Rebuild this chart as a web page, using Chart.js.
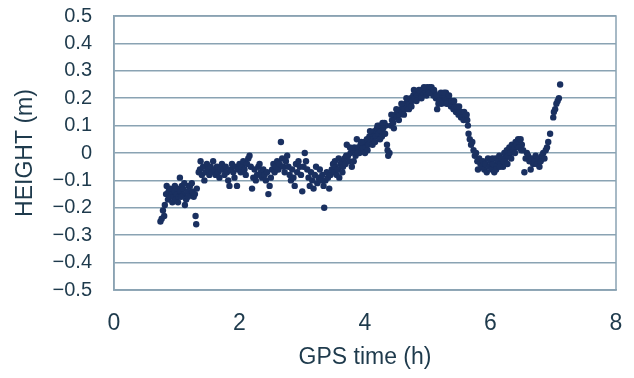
<!DOCTYPE html>
<html>
<head>
<meta charset="utf-8">
<script src="https://cdn.jsdelivr.net/npm/chart.js@4"></script>
<style>
  html, body { margin: 0; padding: 0; background: #fff; }
  #wrap { width: 634px; height: 378px; }
</style>
</head>
<body>
<div id="wrap"><canvas id="gps-chart" width="634" height="378"></canvas></div>
<script>
// GPS time (h) and height (m)
const times = [
  0.74, 0.76, 0.78, 0.80, 0.81, 0.83, 0.84, 0.86, 0.87, 0.89, 0.90, 0.92, 0.93, 0.95, 0.96, 0.98,
  1.00, 1.01, 1.03, 1.05, 1.06, 1.08, 1.10, 1.11, 1.13, 1.15, 1.17, 1.19, 1.21, 1.23, 1.25, 1.27,
  1.29, 1.30, 1.31, 1.32,
  1.35, 1.37, 1.38, 1.40, 1.42, 1.44, 1.46, 1.48, 1.50, 1.52, 1.54, 1.56, 1.58, 1.60, 1.62, 1.64,
  1.66, 1.68, 1.70, 1.72, 1.74, 1.76, 1.78, 1.80, 1.82, 1.84, 1.86, 1.88, 1.90, 1.92, 1.94, 1.96,
  1.98, 2.00,
  2.02, 2.04, 2.06, 2.08, 2.10, 2.12, 2.14, 2.16, 2.18, 2.20, 2.22, 2.24, 2.26, 2.28, 2.30, 2.32,
  2.34, 2.36, 2.38, 2.40, 2.42, 2.44, 2.46, 2.48, 2.50, 2.52, 2.54, 2.56, 2.58, 2.60, 2.62, 2.64,
  2.66, 2.68, 2.70, 2.72, 2.74, 2.76, 2.78, 2.80, 2.82, 2.84, 2.86, 2.88, 2.90, 2.92, 2.94, 2.96,
  2.98, 3.00,
  3.02, 3.04, 3.06, 3.08, 3.10, 3.12, 3.14, 3.16, 3.18, 3.20, 3.22, 3.24, 3.26, 3.28, 3.30, 3.32,
  3.34, 3.35, 3.37, 3.39, 3.41, 3.43, 3.45, 3.47, 3.49,
  3.51, 3.53, 3.55, 3.57, 3.59, 3.61, 3.63, 3.65, 3.67, 3.69, 3.71, 3.73, 3.75, 3.77, 3.79, 3.81,
  3.83, 3.85, 3.87, 3.89, 3.91, 3.93, 3.95, 3.97, 3.99,
  4.01, 4.03, 4.05, 4.07, 4.09, 4.11, 4.13, 4.15, 4.17, 4.19, 4.21, 4.23, 4.25, 4.27, 4.29, 4.31,
  4.33, 4.35, 4.36, 4.37, 4.39, 4.41, 4.43, 4.45, 4.47, 4.49,
  4.51, 4.53, 4.55, 4.57, 4.59, 4.61, 4.63, 4.65, 4.67, 4.69, 4.71, 4.73, 4.75, 4.77, 4.79, 4.81,
  4.83, 4.85, 4.87, 4.89, 4.91, 4.93, 4.95, 4.97, 4.99, 5.01, 5.03, 5.05, 5.07, 5.09,
  5.11, 5.13, 5.15, 5.17, 5.19, 5.21, 5.23, 5.25, 5.27, 5.29, 5.31, 5.33, 5.35, 5.37, 5.39, 5.41,
  5.43, 5.45, 5.47, 5.49, 5.51, 5.53, 5.55, 5.57, 5.59, 5.61, 5.63,
  5.65, 5.67, 5.69, 5.71, 5.73, 5.75, 5.77, 5.79, 5.80, 5.82, 5.84, 5.86, 5.88, 5.90, 5.92, 5.94,
  5.96, 5.98, 6.00, 6.02, 6.04, 6.06, 6.08, 6.10, 6.12, 6.14, 6.16, 6.18, 6.20, 6.22, 6.24, 6.26,
  6.28, 6.30, 6.32, 6.34, 6.36, 6.38, 6.40, 6.42, 6.44, 6.46, 6.48, 6.50, 6.52, 6.54, 6.56, 6.58,
  6.60, 6.62, 6.64, 6.66, 6.68, 6.70, 6.72, 6.74, 6.76, 6.78, 6.80, 6.82, 6.84, 6.86, 6.88, 6.90,
  6.92, 6.95, 7.00, 7.01, 7.03, 7.05, 7.07, 7.09, 7.11,
  // second pass over the thicker parts of the band
  0.97, 1.02, 1.07, 1.12, 1.18, 1.24,
  3.52, 3.58, 3.64, 3.70, 3.76, 3.82, 3.88, 3.94, 4.00, 4.04, 4.08, 4.12, 4.16, 4.20, 4.24, 4.28,
  4.32, 4.42, 4.46, 4.50, 4.54, 4.58, 4.62, 4.66, 4.70, 4.74, 4.78, 4.82, 4.86, 4.90, 4.94, 4.98,
  5.02, 5.06, 5.10, 5.14, 5.18, 5.22, 5.26, 5.30, 5.34, 5.38, 5.42, 5.46, 5.50, 5.54, 5.58, 5.62,
  5.64,
  6.03, 6.09, 6.15, 6.21, 6.27, 6.33, 6.39, 6.45, 6.49
]
const heights = [
  -0.25, -0.24, -0.21, -0.23, -0.19, -0.15, -0.12, -0.17, -0.14, -0.16, -0.13, -0.15, -0.18, -0.16, -0.14, -0.17,
  -0.15, -0.13, -0.16, -0.09, -0.14, -0.12, -0.13, -0.15, -0.19, -0.17, -0.14, -0.12, -0.12, -0.15, -0.14, -0.16,
  -0.15, -0.23, -0.26, -0.13,
  -0.07, -0.06, -0.03, -0.08, -0.05, -0.10, -0.07, -0.04, -0.06, -0.08, -0.05, -0.07, -0.03, -0.06, -0.08, -0.05,
  -0.07, -0.09, -0.06, -0.04, -0.06, -0.08, -0.05, -0.07, -0.10, -0.12, -0.06, -0.04, -0.07, -0.09, -0.05, -0.12,
  -0.06, -0.04,
  -0.07, -0.05, -0.03, -0.06, -0.08, -0.04, -0.02, -0.01, -0.05, -0.13, -0.09, -0.06, -0.10, -0.08, -0.05, -0.04,
  -0.07, -0.09, -0.06, -0.08, -0.10, -0.07, -0.15, -0.12, -0.09, -0.06, -0.04, -0.07, -0.05, -0.03, -0.06, -0.04,
  0.04, -0.02, -0.05, -0.07, -0.03, -0.01, -0.05, -0.08, -0.10, -0.06, -0.09, -0.12, -0.04, -0.07, -0.03, -0.05,
  -0.08, -0.14,
  -0.05, 0.00, -0.03, -0.06, -0.09, -0.12, -0.07, -0.10, -0.13, -0.08, -0.05, -0.11, -0.09, -0.06, -0.10, -0.08,
  -0.12, -0.20, -0.10, -0.07, -0.09, -0.13, -0.08, -0.06, -0.04,
  -0.07, -0.05, -0.08, -0.06, -0.09, -0.04, -0.03, -0.05, -0.02, -0.04, 0.03, -0.01, -0.03, 0.00, -0.05, 0.01,
  0.02, -0.01, 0.05, 0.02, 0.00, 0.03, 0.01, 0.02, 0.04,
  0.02, 0.05, 0.03, 0.06, 0.04, 0.07, 0.05, 0.08, 0.06, 0.09, 0.07, 0.10, 0.08, 0.06, 0.09, 0.11,
  0.10, 0.03, 0.01, -0.01, 0.00, 0.10, 0.12, 0.11, 0.13, 0.14,
  0.13, 0.15, 0.14, 0.16, 0.15, 0.17, 0.16, 0.18, 0.17, 0.19, 0.18, 0.20, 0.19, 0.21, 0.20, 0.22,
  0.21, 0.20, 0.22, 0.23, 0.21, 0.22, 0.23, 0.22, 0.24, 0.23, 0.24, 0.22, 0.23, 0.21,
  0.22, 0.20, 0.16, 0.18, 0.21, 0.22, 0.20, 0.19, 0.21, 0.22, 0.20, 0.18, 0.19, 0.17, 0.18, 0.16,
  0.17, 0.15, 0.16, 0.14, 0.15, 0.13, 0.14, 0.12, 0.14, 0.13, 0.12,
  0.07, 0.05, 0.03, 0.04, 0.01, -0.01, 0.00, -0.03, -0.06, -0.02, -0.04, -0.05, -0.03, -0.06, -0.04, -0.07,
  -0.02, -0.05, -0.03, -0.06, -0.04, -0.07, -0.02, -0.05, -0.03, -0.01, -0.04, -0.02, -0.05, 0.00, -0.02, 0.01,
  -0.01, 0.02, 0.00, 0.03, 0.01, 0.02, 0.04, 0.03, 0.05, 0.04, 0.05, 0.03, 0.01, -0.07, -0.02, 0.00,
  -0.01, -0.03, -0.06, -0.02, -0.04, -0.03, -0.01, -0.04, -0.02, -0.05, -0.03, -0.01, 0.00, -0.02, 0.01, 0.02,
  0.04, 0.07, 0.13, 0.15, 0.16, 0.18, 0.19, 0.20, 0.25,
  -0.12, -0.18, -0.16, -0.11, -0.16, -0.11,
  -0.03, -0.02, -0.07, -0.01, 0.02, -0.03, 0.00, 0.04, 0.00, 0.01, 0.08, 0.03, 0.04, 0.10, 0.05, 0.11,
  0.07, 0.14, 0.09, 0.16, 0.12, 0.18, 0.14, 0.20, 0.16, 0.17, 0.23, 0.19, 0.23, 0.20, 0.24, 0.21,
  0.22, 0.24, 0.23, 0.21, 0.19, 0.18, 0.22, 0.18, 0.21, 0.19, 0.19, 0.17, 0.17, 0.15, 0.15, 0.14,
  0.10,
  -0.02, -0.06, -0.05, -0.03, -0.04, -0.02, 0.00, 0.02, 0.01
]
const xTicks = [0, 2, 4, 6, 8]
const yMin = -0.5, yMax = 0.5, yStep = 0.1

const points = times.map((t, i) => ({ x: t, y: heights[i] }))

const textColor = '#1e3a4c'
const lineColor = '#8aa3b3'

// plot frame on all four sides
const framePlugin = {
  id: 'frame',
  afterDraw(chart) {
    const { ctx, chartArea: a } = chart
    ctx.save()
    ctx.strokeStyle = lineColor
    ctx.lineWidth = 1.5
    ctx.strokeRect(a.left, a.top, a.right - a.left, a.bottom - a.top)
    ctx.restore()
  }
}

new Chart(document.getElementById('gps-chart'), {
  type: 'scatter',
  data: {
    datasets: [{
      label: 'HEIGHT',
      data: points,
      pointRadius: 3.2,
      pointBackgroundColor: '#1a3060',
      pointBorderWidth: 0,
      pointHoverRadius: 3.2
    }]
  },
  options: {
    responsive: false,
    animation: false,
    layout: { padding: { top: 0, right: 0, left: 0, bottom: 0 } },
    plugins: {
      legend: { display: false },
      tooltip: { enabled: false }
    },
    scales: {
      x: {
        type: 'linear',
        min: 0,
        max: 8,
        afterBuildTicks: s => { s.ticks = xTicks.map(v => ({ value: v })) },
        afterFit: s => { s.height = 88; s.paddingRight = 18 },
        grid: { display: false, drawTicks: false },
        border: { display: true, color: lineColor, width: 1.5 },
        ticks: {
          padding: 20,
          color: textColor,
          font: { family: '"Liberation Sans", Arial, sans-serif', size: 23 }
        },
        title: {
          display: true,
          text: 'GPS time (h)',
          color: textColor,
          padding: { top: 6, bottom: 7 },
          font: { family: '"Liberation Sans", Arial, sans-serif', size: 23 }
        }
      },
      y: {
        min: yMin,
        max: yMax,
        afterFit: s => { s.width = 114; s.paddingTop = 16 },
        grid: { color: lineColor, lineWidth: 1.5, drawTicks: false },
        border: { display: true, color: lineColor, width: 1.5 },
        ticks: {
          stepSize: yStep,
          autoSkip: false,
          padding: 22,
          color: textColor,
          font: { family: '"Liberation Sans", Arial, sans-serif', size: 20 },
          callback: v => {
            const r = Math.round(v * 10) / 10
            if (r === 0) return '0'
            return (r < 0 ? '\u2212' : '') + Math.abs(r).toFixed(1)
          }
        },
        title: {
          display: true,
          text: 'HEIGHT (m)',
          color: textColor,
          padding: { top: 12, bottom: 0 },
          font: { family: '"Liberation Sans", Arial, sans-serif', size: 23 }
        }
      }
    }
  },
  plugins: [framePlugin]
})
</script>
</body>
</html>
